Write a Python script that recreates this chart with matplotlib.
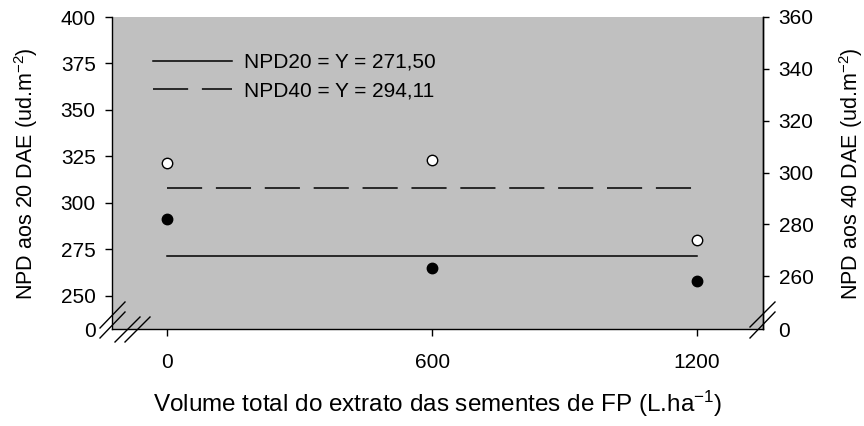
import matplotlib
matplotlib.use('Agg')
import matplotlib.pyplot as plt
from matplotlib.lines import Line2D

plt.rcParams['font.family'] = ['Liberation Sans', 'DejaVu Sans']
plt.rcParams['mathtext.fontset'] = 'custom'
plt.rcParams['mathtext.rm'] = 'Liberation Sans'
plt.rcParams['mathtext.it'] = 'Liberation Sans'

# data
dose = [0, 600, 1200]
npd20 = [291.5, 265.0, 258.0]
npd40 = [303.5, 305.0, 274.0]
npd20_fit = 271.50
npd40_fit = 294.11

left_ticks = [250, 275, 300, 325, 350, 375, 400]
right_ticks = [260, 280, 300, 320, 340, 360]
left_min, right_min = 232, 239.5

fig = plt.figure(figsize=(8.64, 4.26), dpi=100)
ax = fig.add_axes([112.3/864, 1-329.3/426, (763.3-112.3)/864, (329.3-17)/426])
ax.set_facecolor('#c0c0c0')
ax2 = ax.twinx()

ax.plot([dose[0], dose[-1]], [npd20_fit, npd20_fit], color='black', lw=1.1,
        label='NPD20 = Y = 271,50')
ax.plot(dose, npd20, 'o', color='black', ms=7.5, zorder=5)

l40, = ax2.plot([dose[0], dose[-1]], [npd40_fit, npd40_fit], color='black', lw=1.1,
                label='NPD40 = Y = 294,11')
l40.set_dashes((23, 9))
ax2.plot(dose, npd40, 'o', mfc='white', mec='black', mew=1, ms=7.5, zorder=5)

ax.set_xlim(-125, 1350)
ax.set_ylim(left_min, 400)
ax2.set_ylim(right_min, 360)

ax.set_xticks(dose)
ax.set_xticklabels([str(d) for d in dose])
ax.set_yticks([left_min] + left_ticks)
ax.set_yticklabels(['0'] + [str(t) for t in left_ticks])
ax2.set_yticks([right_min] + right_ticks)
ax2.set_yticklabels(['0'] + [str(t) for t in right_ticks])
ax.yaxis.get_major_ticks()[0].tick1line.set_visible(False)
ax2.yaxis.get_major_ticks()[0].tick2line.set_visible(False)

for a in (ax, ax2):
    a.spines['top'].set_visible(False)
    for s in a.spines.values():
        s.set_linewidth(1.0)
ax2.spines['left'].set_visible(False)
ax2.spines['bottom'].set_visible(False)

ax.tick_params(axis='both', direction='out', length=5, width=1, labelsize=15, pad=7)
ax.tick_params(axis='x', pad=12)
ax2.tick_params(axis='y', direction='out', length=4, width=1, labelsize=15, pad=7)

ax.set_ylabel('NPD aos 20 DAE (ud.m$^{-2}$)', fontsize=15.5, labelpad=15)
ax2.set_ylabel('NPD aos 40 DAE (ud.m$^{-2}$)', fontsize=15.5, labelpad=17)
ax.set_xlabel('Volume total do extrato das sementes de FP (L.ha$^{-1}$)', fontsize=17.5, labelpad=12)

h1, lb1 = ax.get_legend_handles_labels()
h2, lb2 = ax2.get_legend_handles_labels()
ax2.legend(h1 + h2, lb1 + lb2, loc='upper left', bbox_to_anchor=(0.034, 0.945),
           frameon=False, fontsize=15, handlelength=3.8, handletextpad=0.55,
           labelspacing=0.45)

# axis break marks
breaks = [((100, 328), (125, 302)), ((100, 338), (125, 312)),
          ((115, 342), (140, 317)), ((125, 342), (150, 317)),
          ((750, 327), (775, 302)), ((750, 338), (775, 312))]
for (x0, y0), (x1, y1) in breaks:
    fig.add_artist(Line2D([x0/864, x1/864], [1-y0/426, 1-y1/426],
                          transform=fig.transFigure, color='black', lw=1))

fig.savefig('out.png', dpi=100)
